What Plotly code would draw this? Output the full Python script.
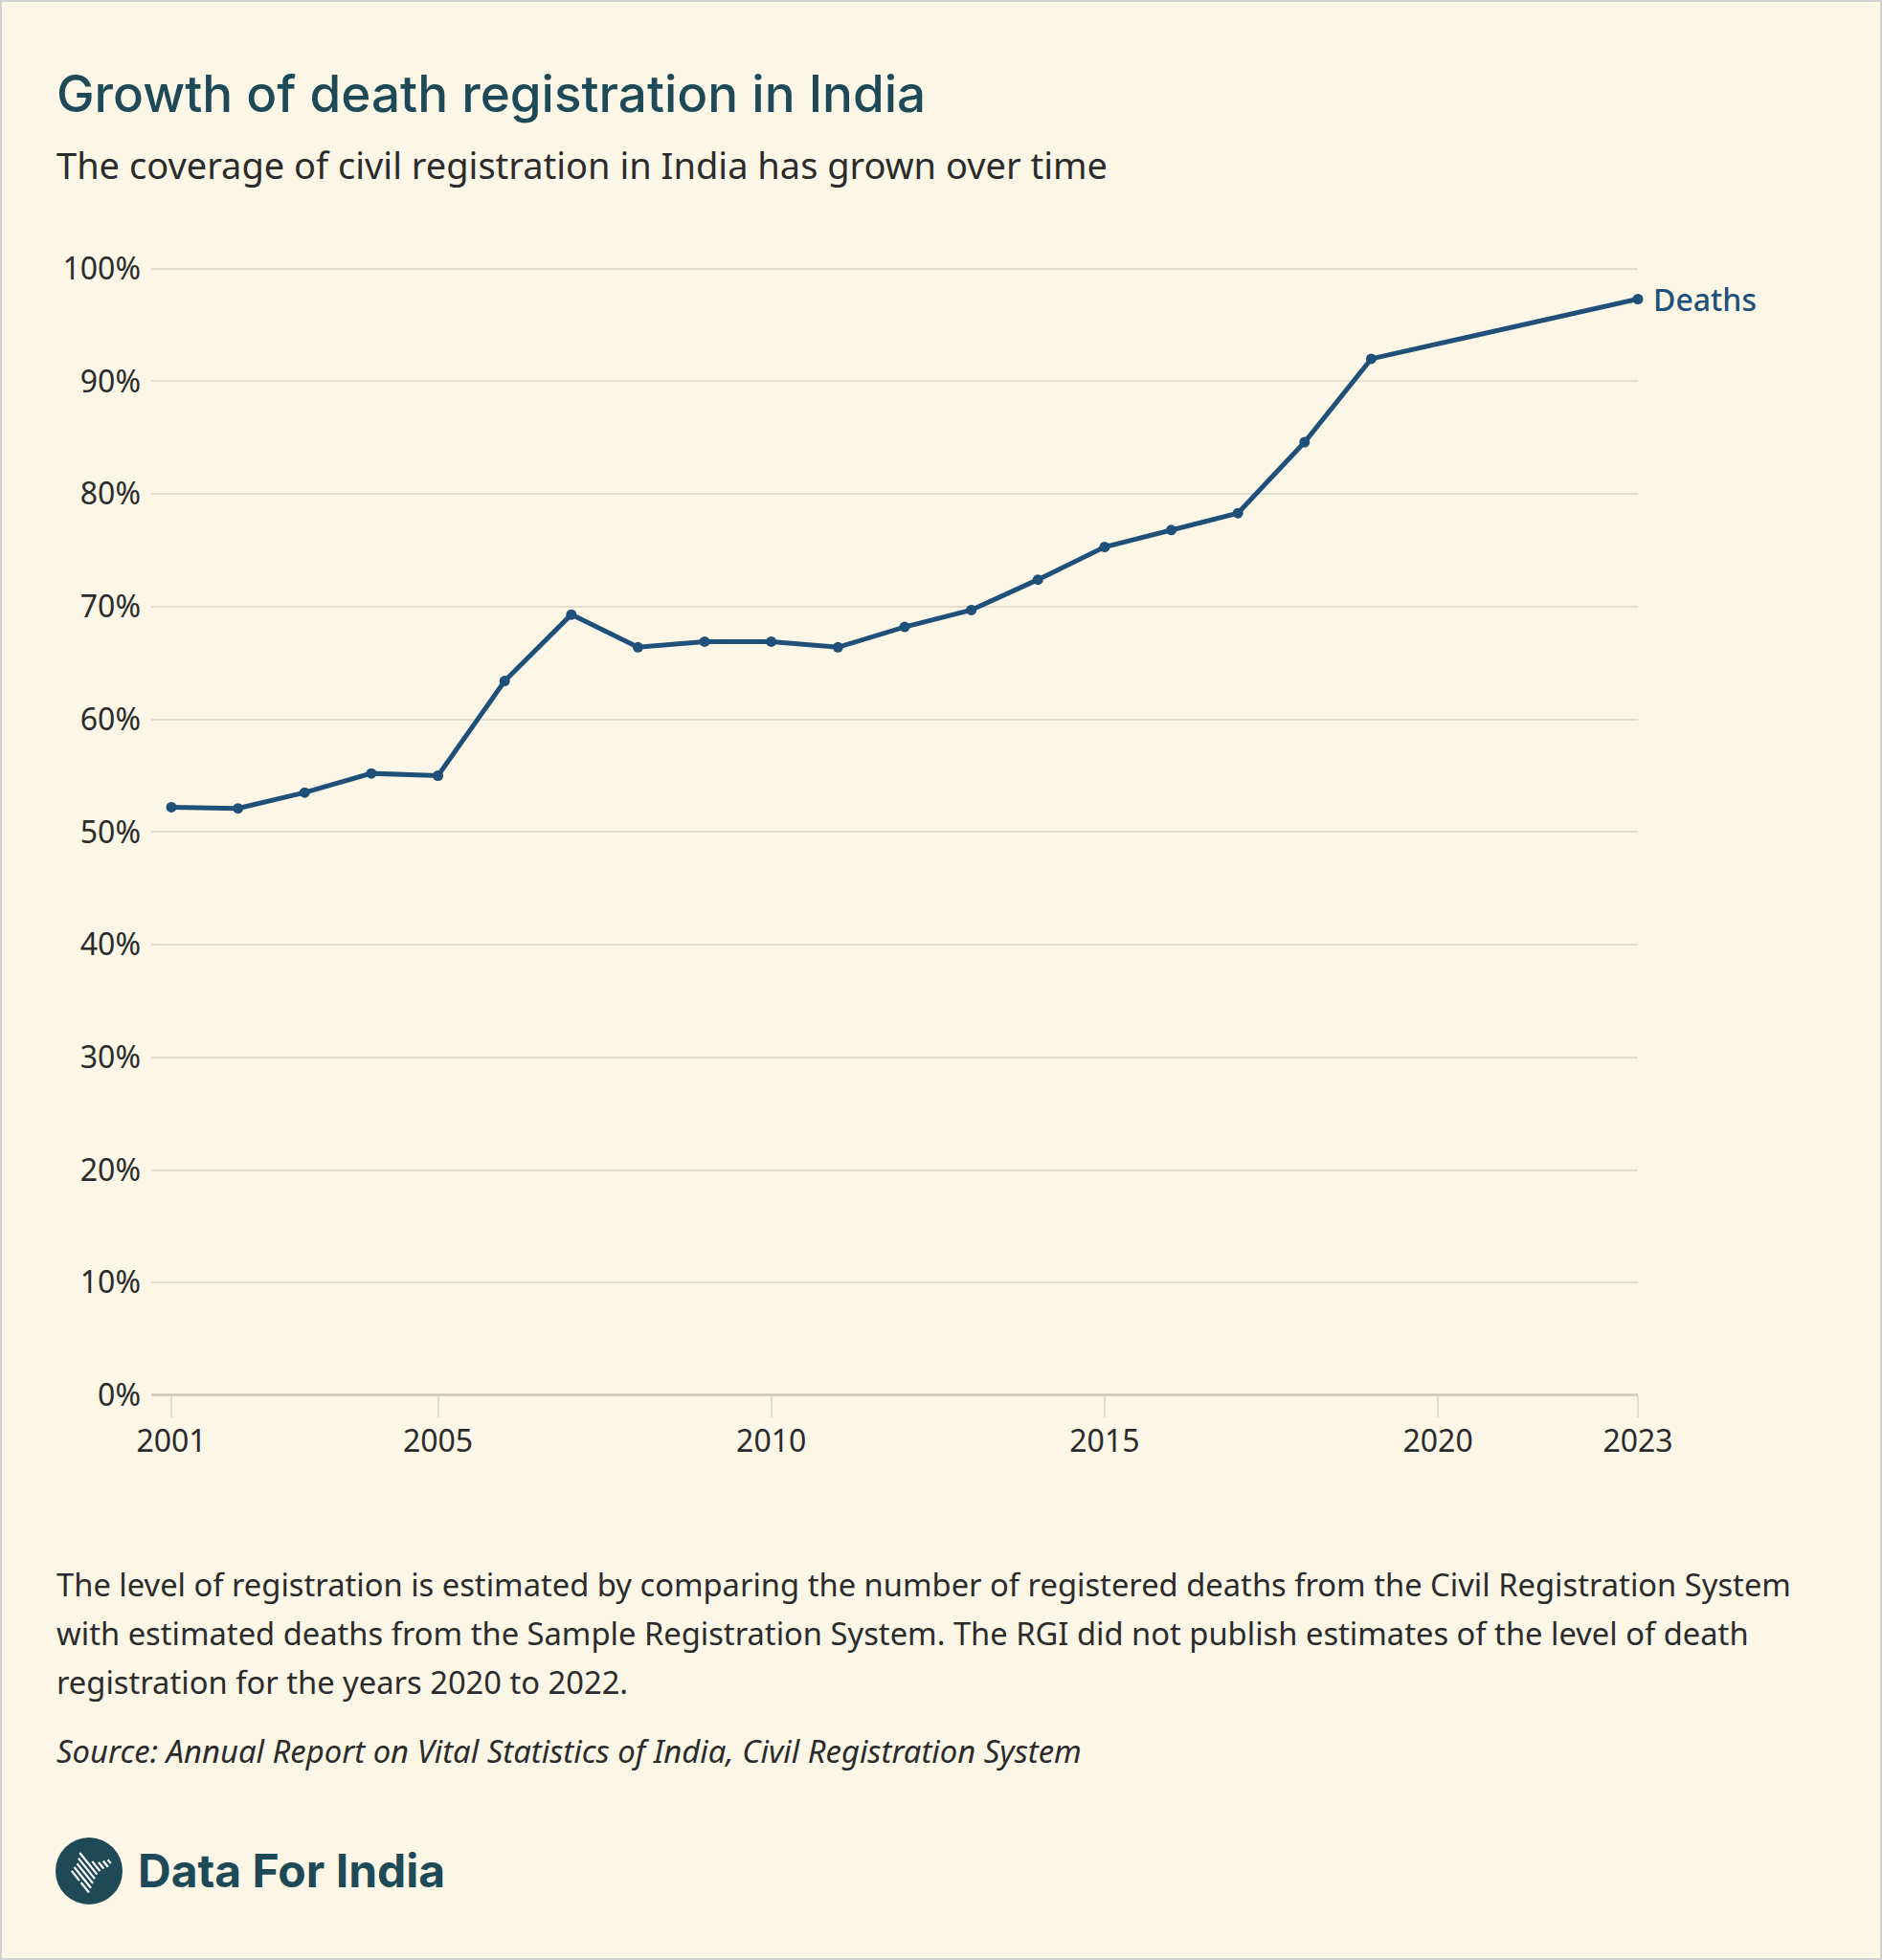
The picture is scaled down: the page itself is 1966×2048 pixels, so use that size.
import plotly.graph_objects as go

years = [2001, 2002, 2003, 2004, 2005, 2006, 2007, 2008, 2009, 2010, 2011, 2012,
         2013, 2014, 2015, 2016, 2017, 2018, 2019, 2023]
deaths = [52.2, 52.1, 53.5, 55.2, 55.0, 63.4, 69.3, 66.4, 66.9, 66.9, 66.4, 68.2,
          69.7, 72.4, 75.3, 76.8, 78.3, 84.6, 92.0, 97.3]
x_ticks = [2001, 2005, 2010, 2015, 2020, 2023]
y_ticks = [0, 10, 20, 30, 40, 50, 60, 70, 80, 90, 100]
y_tick_labels = [f"{v}%" for v in y_ticks]
series_name = "Deaths"

title = "Growth of death registration in India"
subtitle = "The coverage of civil registration in India has grown over time"
note_lines = [
    "The level of registration is estimated by comparing the number of registered deaths from the Civil Registration System",
    "with estimated deaths from the Sample Registration System. The RGI did not publish estimates of the level of death",
    "registration for the years 2020 to 2022.",
]
source = "Source: Annual Report on Vital Statistics of India, Civil Registration System"
brand = "Data For India"

W, H = 1966, 2048
BG = "#fcf6e7"
LINE = "#1f5079"
TEAL = "#1e4a57"
TEXT = "#2b2b2b"
GRID = "#e4ddcf"


def px(x):
    return x / W


def py(y):
    return 1 - y / H


fig = go.Figure()
fig.add_trace(go.Scatter(
    x=years, y=deaths, mode="lines+markers", name=series_name,
    line=dict(color=LINE, width=5), marker=dict(color=LINE, size=11),
    cliponaxis=False, showlegend=False,
))

fig.update_layout(
    width=W, height=H,
    paper_bgcolor=BG, plot_bgcolor=BG,
    margin=dict(l=0, r=0, t=0, b=0, pad=0, autoexpand=False),
    font=dict(family="Noto Sans", color=TEXT),
    xaxis=dict(
        domain=[px(158), px(1711)],
        range=[2001 - 21 / 69.6, 2023],
        tickmode="array", tickvals=x_ticks, ticktext=[str(v) for v in x_ticks],
        showgrid=False, zeroline=False, showline=False,
        ticks="outside", ticklen=22, tickwidth=2, tickcolor=GRID,
        tickfont=dict(family="Noto Sans", size=32, color=TEXT),
        ticklabelstandoff=-2, automargin=False,
    ),
    yaxis=dict(
        domain=[py(1458), py(280.7 - 0.3 * 11.77)],
        range=[0, 100.3],
        tickmode="array", tickvals=y_ticks, ticktext=y_tick_labels,
        showgrid=True, gridcolor=GRID, gridwidth=2,
        zeroline=True, zerolinecolor="#d6cfc0", zerolinewidth=3,
        showline=False, ticks="",
        tickfont=dict(family="Noto Sans", size=32, color=TEXT),
        ticklabelstandoff=10, automargin=False,
    ),
)

annotations = [
    dict(text=title, x=px(57), y=py(98), xanchor="left", yanchor="middle",
         font=dict(family="Inter", size=53, color=TEAL, weight=500)),
    dict(text=subtitle, x=px(57), y=py(172), xanchor="left", yanchor="middle",
         font=dict(family="Noto Sans", size=38, color=TEXT)),
    dict(text=series_name, x=2023, y=deaths[-1], xref="x", yref="y",
         xanchor="left", yanchor="middle", xshift=14, showarrow=False,
         font=dict(family="Noto Sans", size=32, color=LINE, weight=500)),
]
for i, line in enumerate(note_lines):
    annotations.append(dict(text=line, x=px(57), y=py(1655 + 51 * i), xanchor="left",
                            yanchor="middle",
                            font=dict(family="Noto Sans", size=32.7, color=TEXT)))
annotations.append(dict(text=f"<i>{source}</i>", x=px(57), y=py(1829), xanchor="left",
                        yanchor="middle",
                        font=dict(family="Noto Sans", size=32.8, color=TEXT)))
annotations.append(dict(text=brand, x=px(142), y=py(1954), xanchor="left", yanchor="middle",
                        font=dict(family="Inter", size=48, color=TEAL, weight=700)))
for a in annotations:
    a.setdefault("xref", "paper")
    a.setdefault("yref", "paper")
    a.setdefault("showarrow", False)
fig.update_layout(annotations=annotations)

shapes = [
    dict(type="rect", xref="paper", yref="paper", x0=0, x1=1, y0=0, y1=1,
         line=dict(color="#d2d2d2", width=4), fillcolor="rgba(0,0,0,0)", layer="above"),
    dict(type="circle", xref="paper", yref="paper",
         x0=px(58), x1=px(128), y0=py(1990), y1=py(1920),
         line=dict(width=0), fillcolor=TEAL),
]

# stylised striped India map inside the logo (decoration)
map_poly = [(84, 1934), (87, 1940), (92, 1944), (104, 1946), (110, 1943), (117, 1943),
            (115, 1950), (107, 1953), (102, 1958), (98, 1966), (94, 1975), (92, 1983),
            (88, 1975), (84, 1966), (78, 1961), (73, 1957), (77, 1951), (81, 1946),
            (82, 1939)]


def inside(x, y, poly):
    c = False
    n = len(poly)
    for i in range(n):
        x1, y1 = poly[i]
        x2, y2 = poly[(i + 1) % n]
        if (y1 > y) != (y2 > y):
            xi = x1 + (y - y1) * (x2 - x1) / (y2 - y1)
            if x < xi:
                c = not c
    return c


dx, dy = 1.0, 1.25
norm = (dx * dx + dy * dy) ** 0.5
ux, uy = dx / norm, dy / norm
nx, ny = -uy, ux
cx, cy = 95, 1958
for k in range(-9, 10):
    ox, oy = cx + nx * k * 4.6, cy + ny * k * 4.6
    pts = []
    t = -40.0
    while t <= 40.0:
        x, y = ox + ux * t, oy + uy * t
        pts.append((inside(x, y, map_poly), x, y))
        t += 0.5
    segs, cur = [], None
    for ins, x, y in pts:
        if ins:
            if cur is None:
                cur = [x, y, x, y]
            else:
                cur[2], cur[3] = x, y
        elif cur is not None:
            segs.append(cur)
            cur = None
    if cur is not None:
        segs.append(cur)
    for x0, y0, x1, y1 in segs:
        if abs(x1 - x0) + abs(y1 - y0) < 1.5:
            continue
        shapes.append(dict(type="line", xref="paper", yref="paper",
                           x0=px(x0), y0=py(y0), x1=px(x1), y1=py(y1),
                           line=dict(color="white", width=2.2)))
fig.update_layout(shapes=shapes)

fig.write_html("out.html")
